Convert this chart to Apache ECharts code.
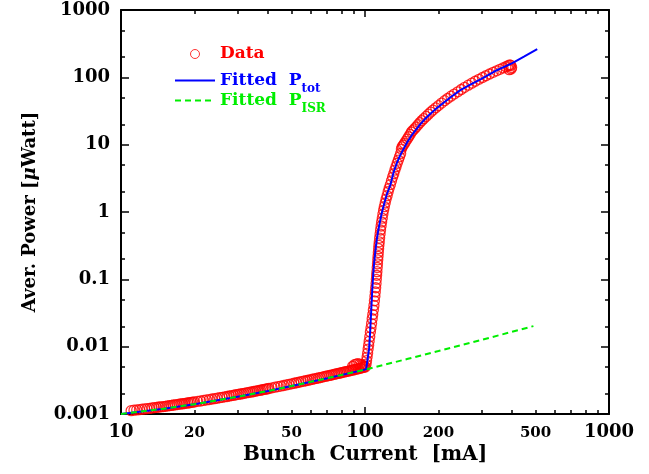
<!DOCTYPE html>
<html>
<head>
<meta charset="utf-8">
<title>Bunch Current vs Aver. Power</title>
<script src="https://cdn.jsdelivr.net/npm/echarts@6.0.0/dist/echarts.min.js"></script>
<style>
    html, body { margin: 0; padding: 0; background: #fff; }
    #chart { width: 649px; height: 474px; }
</style>
</head>
<body>
<div id="chart"></div>
<script>
// measured points (bunch current in mA, power in uW)
var dataX = [
    11.0, 11.3, 11.6, 11.9, 12.2, 12.5, 12.8, 13.1, 13.4, 13.7, 14.0, 14.3, 14.6, 14.9, 15.2, 15.5, 15.8, 16.1, 16.4, 16.7,
    17.0, 17.3, 17.6, 17.9, 18.2, 18.5, 18.8, 19.1, 19.4, 19.7,
    20.0, 20.6, 21.2, 21.8, 22.4, 23.0, 23.6, 24.2, 24.8, 25.4, 26.0, 26.6, 27.2, 27.8, 28.4, 29.0, 29.6, 30.2, 30.8, 31.4,
    32.0, 32.6, 33.2, 33.8, 34.4, 35.0, 35.6, 36.2, 36.8, 37.4, 38.0, 38.6, 39.2, 39.8,
    40.4, 41.6, 42.8, 44.0, 45.2, 46.4, 47.6, 48.8, 50.0, 51.2, 52.4, 53.6, 54.8, 56.0, 57.2, 58.4, 59.6, 60.8, 62.0, 63.2,
    64.4, 65.6, 66.8, 68.0, 69.2, 70.4, 71.6, 72.8, 74.0, 75.2, 76.4, 77.6, 78.8, 80.0, 81.2, 82.4, 83.6, 84.8, 86.0, 87.2, 88.4,
    89.0, 89.6, 90.5, 91.0, 92.0, 92.4, 93.5, 94.0, 95.0, 95.6, 96.5, 97.2, 98.0, 98.8, 99.5, 100.3,
    101, 101.5, 102, 102.5, 103, 103.5, 104, 104.6, 105.2, 105.8, 106.4, 107, 107.6, 108.2, 108.8, 109.3, 109.8, 110.2, 110.6, 111,
    111.3, 111.6, 111.9, 112.2, 112.5, 112.8, 113.1, 113.4, 113.7, 114, 114.4, 114.8, 115.3, 115.8, 116.4, 117, 117.7, 118.4, 119.2, 120,
    121, 122, 123.2, 124.4, 125.6, 127, 128.4, 129.8, 131.2, 132.6,
    134, 135.5, 137, 138.5, 140, 141, 142, 143.5, 145, 147, 149, 151, 153, 155, 157, 159.5, 162, 165, 168, 171,
    174, 178, 182, 186, 190, 195, 200, 206, 212, 218, 225, 232, 240, 248, 256, 265, 274, 283, 293, 303,
    313, 324, 335, 346, 357, 368, 378, 386, 392, 396, 390, 397, 399];
var dataY = [
    0.00112, 0.00114, 0.00115, 0.00116, 0.00118, 0.00119, 0.0012, 0.00121, 0.00123, 0.00124, 0.00125, 0.00127, 0.00128, 0.00129, 0.0013, 0.00132, 0.00133, 0.00134, 0.00136, 0.00137,
    0.00138, 0.0014, 0.00141, 0.00142, 0.00143, 0.00145, 0.00146, 0.00147, 0.00149, 0.0015,
    0.00151, 0.00154, 0.00156, 0.00159, 0.00162, 0.00164, 0.00167, 0.00169, 0.00172, 0.00175, 0.00177, 0.0018, 0.00182, 0.00185, 0.00188, 0.0019, 0.00193, 0.00195, 0.00198, 0.002,
    0.00203, 0.00206, 0.00208, 0.00211, 0.00213, 0.00216, 0.00219, 0.00221, 0.00224, 0.00226, 0.00229, 0.00232, 0.00234, 0.00237,
    0.00239, 0.00245, 0.0025, 0.00255, 0.0026, 0.00265, 0.0027, 0.00276, 0.00281, 0.00286, 0.00291, 0.00296, 0.00302, 0.00307, 0.00312, 0.00317, 0.00322, 0.00328, 0.00333, 0.00338,
    0.00343, 0.00348, 0.00353, 0.00359, 0.00364, 0.00369, 0.00374, 0.00379, 0.00385, 0.0039, 0.00395, 0.004, 0.00405, 0.0041, 0.00416, 0.00421, 0.00426, 0.00431, 0.00436, 0.00442, 0.00447,
    0.0051, 0.00452, 0.0054, 0.00458, 0.0055, 0.00464, 0.0056, 0.0047, 0.0055, 0.00478, 0.0054, 0.00485, 0.0053, 0.00492, 0.0051, 0.005,
    0.0055, 0.0062, 0.007, 0.008, 0.0092, 0.0105, 0.012, 0.014, 0.0165, 0.019, 0.022, 0.026, 0.03, 0.035, 0.041, 0.048, 0.056, 0.065, 0.075, 0.087,
    0.1, 0.115, 0.13, 0.15, 0.17, 0.195, 0.22, 0.25, 0.285, 0.32, 0.36, 0.41, 0.47, 0.54, 0.62, 0.71, 0.81, 0.93, 1.06, 1.2,
    1.36, 1.55, 1.75, 2.0, 2.25, 2.55, 2.9, 3.3, 3.7, 4.2,
    4.7, 5.3, 5.9, 6.6, 7.4, 8.6, 9.3, 9.8, 10.4, 11.2, 12.1, 13.1, 14.2, 15.4, 16.2, 17.2, 18.3, 19.8, 21.3, 22.8,
    24.3, 26.3, 28.4, 30.5, 32.6, 35.3, 38, 41.5, 45, 48.5, 52.5, 56.5, 61, 66, 71, 76.5, 82, 87.5, 93.5, 99.5,
    105.5, 112, 118.5, 125, 131.5, 138, 144, 149, 153, 150, 130, 133, 140];

// fitted total power
var totX = [10, 15, 20, 30, 40, 50, 70, 101, 102, 103, 104, 105, 106, 107, 108, 109, 110, 111, 112, 113,
    115, 117, 120, 123, 127, 131, 135, 139, 143, 149, 155, 161, 168, 176, 185, 197, 210, 225, 245, 269,
    300, 340, 400, 450, 508];
var totY = [0.001, 0.0012, 0.0014, 0.0018, 0.0022, 0.0026, 0.0034, 0.0046, 0.0058, 0.0074, 0.0095, 0.017, 0.033, 0.065, 0.115, 0.175, 0.24, 0.32, 0.41, 0.5,
    0.7, 0.95, 1.35, 1.85, 2.5, 3.9, 5.3, 6.8, 8.3, 10.9, 13.6, 16.3, 19.8, 24, 28.6, 35, 42, 51, 64, 77,
    95, 123, 161, 205, 263];

// fitted ISR power
var isrX = [10, 15, 20, 30, 40, 50, 70, 101, 150, 200, 300, 400, 490];
var isrY = [0.001, 0.0012, 0.0014, 0.0018, 0.0022, 0.0026, 0.0034, 0.0046, 0.0066, 0.0086, 0.0126, 0.0166, 0.0202];

// axis ticks and labels
var xMajorTicks = [10, 100, 1000];
var xMinorTicks = [20, 30, 40, 50, 60, 70, 80, 90, 200, 300, 400, 500, 600, 700, 800, 900];
var xMinorLabels = [20, 50, 200, 500];
var yMajorTicks = [0.001, 0.01, 0.1, 1, 10, 100, 1000];
var yMinorTicks = [0.002, 0.005, 0.02, 0.05, 0.2, 0.5, 2, 5, 20, 50, 200, 500];

var FONT = 'DejaVu Serif';

function lg(v) { return Math.log10(v); }
function pow10Label(v) { return String(+Math.pow(10, v).toPrecision(3)); }
function pairs(xs, ys) { return xs.map(function (x, i) { return [x, ys[i]]; }); }

// decoration axes in log10 space, sharing the grid with the log axes
function tickAxis(pos, min, max, ticks, len, labels, labelSize, labelMargin, showLine) {
    return {
        type: 'value', position: pos, min: min, max: max,
        axisLine: {show: !!showLine, onZero: false, lineStyle: {color: '#000', width: 2}},
        splitLine: {show: false},
        axisTick: {show: true, inside: true, length: len, customValues: ticks.map(lg),
            lineStyle: {color: '#000', width: 1.5}},
        axisLabel: labels ? {
            show: true, customValues: labels.map(lg), formatter: pow10Label,
            fontFamily: FONT, fontWeight: 'bold', fontSize: labelSize, color: '#000', margin: labelMargin
        } : {show: false}
    };
}

function legendRow(name, left, top, color, itemStyle) {
    return {
        data: [name], left: left, top: top, padding: 0,
        itemWidth: 40, itemHeight: 9, itemGap: 0, selectedMode: false,
        itemStyle: itemStyle,
        formatter: function (n) {
            if (n === 'Data') return '{m|Data}';
            if (n === 'Fitted Ptot') return '{m|Fitted  P}{s|tot}';
            return '{m|Fitted  P}{s|ISR}';
        },
        textStyle: {
            fontFamily: FONT, fontWeight: 'bold', fontSize: 17, color: color,
            rich: {
                m: {fontFamily: FONT, fontWeight: 'bold', fontSize: 17, lineHeight: 20, color: color},
                s: {fontFamily: FONT, fontWeight: 'bold', fontSize: 12, lineHeight: 12, color: color,
                    padding: [16, 0, 0, 0]}
            }
        }
    };
}

var chart = echarts.init(document.getElementById('chart'), null, {renderer: 'canvas'});

var option = {
    backgroundColor: '#fff',
    animation: false,
    textStyle: {fontFamily: FONT},
    grid: {left: 121, right: 40, top: 10, bottom: 60, containLabel: false},
    legend: [
        legendRow('Data', 190, 45.5, '#ff0000', {borderWidth: 1}),
        legendRow('Fitted Ptot', 174, 66.5, '#0000ff', {opacity: 0}),
        legendRow('Fitted PISR', 174, 86.5, '#00ee00', {opacity: 0})
    ],
    xAxis: [
        {
            type: 'log', logBase: 10, min: 10, max: 1000, position: 'bottom',
            name: 'Bunch  Current  [mA]', nameLocation: 'middle', nameGap: 31,
            nameTextStyle: {fontFamily: FONT, fontWeight: 'bold', fontSize: 20, color: '#000'},
            axisLine: {show: true, onZero: false, lineStyle: {color: '#000', width: 2}},
            axisTick: {show: false}, axisLabel: {show: false}, splitLine: {show: false}
        },
        tickAxis('bottom', 1, 3, xMajorTicks, 7, xMajorTicks, 18, 9, false),
        tickAxis('bottom', 1, 3, xMinorTicks, 4, xMinorLabels, 15, 12, false),
        tickAxis('top', 1, 3, xMajorTicks, 7, null, 0, 0, true),
        tickAxis('top', 1, 3, xMinorTicks, 4, null, 0, 0, false)
    ],
    yAxis: [
        {
            type: 'log', logBase: 10, min: 0.001, max: 1000, position: 'left',
            name: '{a|Aver. Power [}{u|\u03bc}{a|Watt]}', nameLocation: 'middle', nameGap: 82,
            nameTextStyle: {
                fontFamily: FONT, fontWeight: 'bold', fontSize: 18, color: '#000',
                rich: {
                    a: {fontFamily: FONT, fontWeight: 'bold', fontSize: 18, color: '#000'},
                    u: {fontFamily: FONT, fontWeight: 'bold', fontStyle: 'italic', fontSize: 18, color: '#000'}
                }
            },
            axisLine: {show: true, onZero: false, lineStyle: {color: '#000', width: 2}},
            axisTick: {show: false}, axisLabel: {show: false}, splitLine: {show: false}
        },
        tickAxis('left', -3, 3, yMajorTicks, 8, yMajorTicks, 18, 11, false),
        tickAxis('left', -3, 3, yMinorTicks, 4, null, 0, 0, false),
        tickAxis('right', -3, 3, yMajorTicks, 8, null, 0, 0, true),
        tickAxis('right', -3, 3, yMinorTicks, 4, null, 0, 0, false)
    ],
    series: [
        {
            name: 'Data', type: 'scatter', xAxisIndex: 0, yAxisIndex: 0,
            symbol: 'circle', symbolSize: 10,
            itemStyle: {color: 'rgba(255,0,0,0)', borderColor: '#ff0000', borderWidth: 1.3},
            data: pairs(dataX, dataY)
        },
        {
            name: 'Fitted Ptot', type: 'line', xAxisIndex: 0, yAxisIndex: 0,
            symbol: 'none', lineStyle: {color: '#0000ff', width: 2},
            itemStyle: {color: '#0000ff'},
            data: pairs(totX, totY)
        },
        {
            name: 'Fitted PISR', type: 'line', xAxisIndex: 0, yAxisIndex: 0,
            symbol: 'none', lineStyle: {color: '#00ee00', width: 2, type: [6, 4]},
            itemStyle: {color: '#00ee00'},
            data: pairs(isrX, isrY)
        }
    ]
};

chart.setOption(option);
</script>
</body>
</html>
